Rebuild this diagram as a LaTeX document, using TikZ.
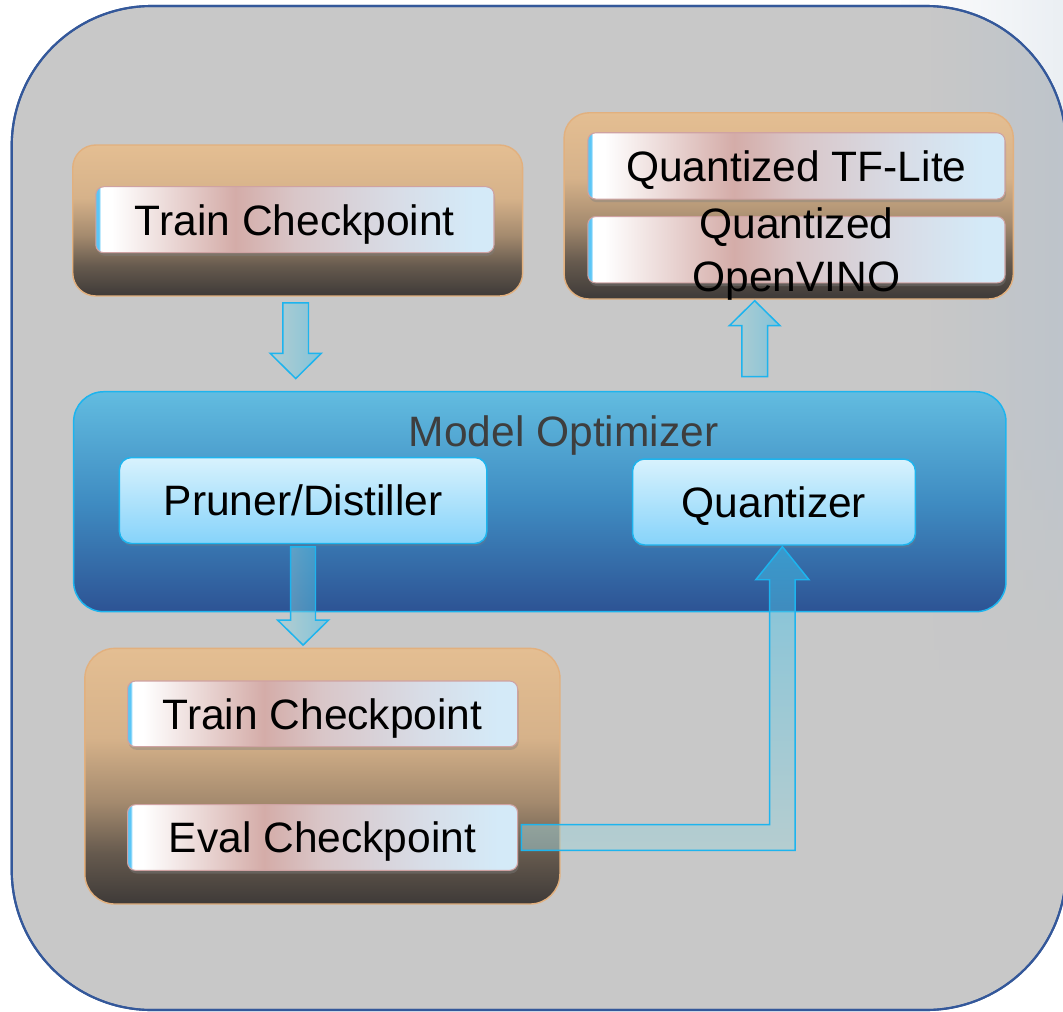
\documentclass[tikz,border=0pt]{standalone}
\usepackage{fontspec}
\setmainfont{Liberation Sans}
\usetikzlibrary{calc,shadows,fadings}

\definecolor{outerfill}{HTML}{C8C8C8}
\definecolor{outerline}{HTML}{34589A}
\definecolor{tintcol}{HTML}{AEBFD0}
\definecolor{tanA}{HTML}{E4BE92}
\definecolor{tanE}{HTML}{D6B28A}
\definecolor{tanB}{HTML}{A48A6E}
\definecolor{tanC}{HTML}{665A4E}
\definecolor{tanD}{HTML}{3E3A38}
\definecolor{tanline}{HTML}{E2B07E}
\definecolor{barstripe}{HTML}{5CC6F6}
\definecolor{barpink}{HTML}{D4ACA8}
\definecolor{barmid}{HTML}{D9C6C8}
\definecolor{bargray}{HTML}{D8DCE6}
\definecolor{barblue}{HTML}{D4EAF8}
\definecolor{barline}{HTML}{CFA2A2}
\definecolor{modtop}{HTML}{62BCE0}
\definecolor{modmid}{HTML}{3F8CC2}
\definecolor{modbot}{HTML}{2D5394}
\definecolor{cyanline}{HTML}{1DB4EE}
\definecolor{boxtop}{HTML}{D8F2FD}
\definecolor{boxbot}{HTML}{86D3FA}
\definecolor{arrowL}{HTML}{A4D2D8}
\definecolor{arrowR}{HTML}{3CC0EC}
\definecolor{motextcol}{HTML}{3E3E3E}

\pgfdeclareverticalshading{tanshade}{100bp}{color(0bp)=(tanD); color(25bp)=(tanD); color(35bp)=(tanC); color(45bp)=(tanB); color(57.5bp)=(tanE); color(75bp)=(tanA); color(100bp)=(tanA)}
\pgfdeclarehorizontalshading{barshade}{100bp}{color(0bp)=(barstripe); color(25.4bp)=(barstripe); color(25.6bp)=(white); color(27bp)=(white); color(42.5bp)=(barpink); color(50bp)=(barmid); color(62.5bp)=(bargray); color(72.5bp)=(barblue); color(100bp)=(barblue)}
\tikzfading[name=fadetoright, left color=transparent!100, right color=transparent!0]

\tikzset{
  lbl/.style={font=\fontsize{24.2}{29.8}\selectfont},
  outerbox/.style={fill=outerfill, draw=outerline, line width=1.2pt, rounded corners=2.8cm},
  tanbox/.style={draw=tanline, line width=0.8pt, shade, shading=tanshade, inner sep=0pt},
  barbox/.style={lbl, draw=barline, line width=0.6pt, shade, shading=barshade,
    rounded corners=0.16cm, inner sep=0pt, text depth=0pt, align=center,
    minimum height=1.32cm,
    drop shadow={shadow xshift=0.6pt, shadow yshift=-1.8pt, opacity=0.4}},
  bartext/.style={lbl, inner sep=0pt, text depth=0pt, align=center},
  modelbox/.style={draw=cyanline, line width=0.85pt, top color=modtop, bottom color=modbot,
    middle color=modmid, rounded corners=0.6cm, inner sep=0pt},
  bluebox/.style={lbl, draw=cyanline, line width=0.85pt, top color=boxtop, bottom color=boxbot,
    rounded corners=0.24cm, inner sep=0pt, text depth=0pt, minimum height=1.72cm,
    drop shadow={shadow xshift=0.5pt, shadow yshift=-1.5pt, opacity=0.3}},
  blockarrow/.style={draw=cyanline, line width=0.85pt, left color=arrowL, right color=arrowR,
    fill opacity=0.5, draw opacity=1},
  bentarrow/.style={draw=cyanline, line width=0.85pt, top color=arrowR, bottom color=arrowL,
    fill opacity=0.5, draw opacity=1},
}

\begin{document}
\begin{tikzpicture}[x=0.02cm, y=-0.02cm]
\useasboundingbox (0,0) rectangle (1063,1012);
\clip (0,0) rectangle (1063,1012);
\fill[white] (0,0) rectangle (1063,1012);
\fill[tintcol, opacity=0.25, path fading=fadetoright] (900,0) rectangle (1063,320);

% outer container
\draw[outerbox] (11.7,6) rectangle (1066,1010);
\begin{scope}
  \clip[rounded corners=2.8cm] (11.7,6) rectangle (1066,1010);
  \foreach \i in {0,...,11} {
    \pgfmathsetmacro{\op}{0.4*(1-\i/12)}
    \fill[tintcol, opacity=\op, path fading=fadetoright] (930,{430+\i*20}) rectangle (1066,{450+\i*20});
  }
  \fill[tintcol, opacity=0.4, path fading=fadetoright] (930,6) rectangle (1066,430);
\end{scope}
\draw[outerline, line width=1.2pt, rounded corners=2.8cm] (11.7,6) rectangle (1066,1010);

% top-left group
\node[tanbox, rounded corners=0.46cm, minimum width=9.0cm, minimum height=3.02cm] (tanA) at (297.7,220.5) {};
\node[barbox, minimum width=7.966cm] (tc1) at (294.9,219.7) {Train Checkpoint};

% top-right group
\node[tanbox, rounded corners=0.5cm, minimum width=8.986cm, minimum height=3.726cm] (tanB) at (788.7,205.9) {};
\node[barbox, minimum width=8.346cm, minimum height=1.326cm] (tfl) at (796.4,165.9) {Quantized TF-Lite};
\node[barbox, minimum width=8.346cm, minimum height=1.326cm] (ov) at (796.4,249.7) {};
\node[bartext] (ovtxt) at (ov.center) {Quantized\\OpenVINO};

% model optimizer
\node[modelbox, minimum width=18.65cm, minimum height=4.4cm] (model) at (539.8,501.7) {};
\node[lbl, text=motextcol, anchor=base] (motxt) at (563.5,446.7) {Model Optimizer};
\node[bluebox, minimum width=7.348cm] (pruner) at (303.1,500.5) {Pruner/Distiller};
\node[bluebox, minimum width=5.658cm] (quant) at (774,502) {Quantizer};

% bottom-left group
\node[tanbox, rounded corners=0.6cm, minimum width=9.504cm, minimum height=5.114cm] (tanC) at (322.4,776.2) {};
\node[barbox, minimum width=7.804cm, minimum height=1.314cm] (tc2) at (322.6,713.85) {Train Checkpoint};
\node[barbox, minimum width=7.804cm, minimum height=1.314cm] (ev) at (322.6,837.5) {Eval Checkpoint};

% arrow 1: train checkpoint -> model optimizer
\coordinate (a1t) at ($(tanA.south)+(-2,6.3)$);
\coordinate (a1b) at (a1t |- model.north);
\coordinate (a1h) at ($(a1b)+(0,-12.4)$);
\draw[blockarrow] ($(a1t)+(-12.8,0)$) -- ($(a1h)+(-12.8,-25.3)$) -- ($(a1h)+(-25.6,-25.3)$) -- (a1h)
  -- ($(a1h)+(25.6,-25.3)$) -- ($(a1h)+(12.8,-25.3)$) -- ($(a1t)+(12.8,0)$) -- cycle;

% arrow 2: model optimizer -> quantized outputs
\coordinate (a2h) at ($(tanB.south)+(-34,1)$);
\coordinate (a2b) at (a2h |- model.north);
\coordinate (a2t) at ($(a2b)+(0,-14.4)$);
\draw[blockarrow] ($(a2t)+(-12.8,0)$) -- ($(a2h)+(-12.8,25)$) -- ($(a2h)+(-25.4,25)$) -- (a2h)
  -- ($(a2h)+(25.4,25)$) -- ($(a2h)+(12.8,25)$) -- ($(a2t)+(12.8,0)$) -- cycle;

% arrow 3: pruner -> bottom checkpoints
\coordinate (a3t) at ($(pruner.south)+(0,2.7)$);
\coordinate (a3b) at (a3t |- tanC.north);
\coordinate (a3h) at ($(a3b)+(0,-2.6)$);
\draw[blockarrow] ($(a3t)+(-12.4,0)$) -- ($(a3h)+(-12.4,-25)$) -- ($(a3h)+(-25.5,-25)$) -- (a3h)
  -- ($(a3h)+(25.5,-25)$) -- ($(a3h)+(12.4,-25)$) -- ($(a3t)+(12.4,0)$) -- cycle;

% arrow 4: eval checkpoint -> quantizer
\coordinate (a4s) at ($(ev.east)+(3.3,0)$);
\coordinate (a4h) at ($(quant.south)+(8.4,1)$);
\coordinate (a4c) at (a4h |- a4s);
\draw[bentarrow] ($(a4s)+(0,-12.8)$) -- ($(a4c)+(-12.8,-12.8)$) -- ($(a4h)+(-12.8,33)$) -- ($(a4h)+(-26.6,33)$)
  -- (a4h) -- ($(a4h)+(26.6,33)$) -- ($(a4h)+(12.8,33)$) -- ($(a4c)+(12.8,12.8)$) -- ($(a4s)+(0,12.8)$) -- cycle;
\end{tikzpicture}
\end{document}
